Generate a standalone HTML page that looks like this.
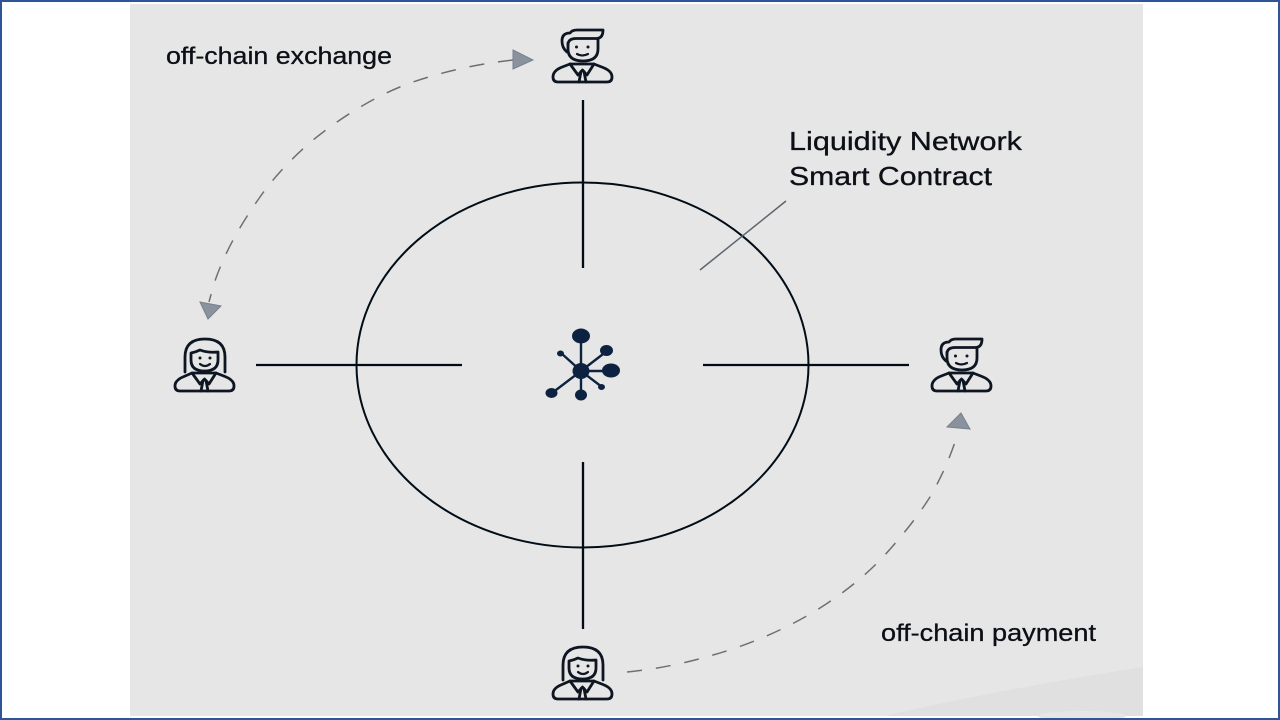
<!DOCTYPE html>
<html>
<head>
<meta charset="utf-8">
<style>
html,body{margin:0;padding:0;background:#fff}
svg{display:block}
text{font-family:"Liberation Sans",sans-serif;fill:#0c1016;stroke:#0c1016;stroke-width:.3}
</style>
</head>
<body>
<svg width="1280" height="720" viewBox="0 0 1280 720" xmlns="http://www.w3.org/2000/svg">
<defs>
<filter id="s" x="-5%" y="-5%" width="110%" height="110%"><feGaussianBlur stdDeviation="0.3"/></filter>
<g id="body" fill="none" stroke="#0b1420" stroke-width="2.800" stroke-linejoin="round" stroke-linecap="round">
  <path d="M558 82H607Q612 82 612 77Q612 71 603 67.500L594 64H570L561 67.500Q553 71 553 77Q553 82 558 82Z" fill="#e6e6e6"/>
  <path d="M570 64L578 75L582.500 70L587 75L594 64"/>
  <path d="M579 82L581 71.500M586 82L584 71.500"/>
</g>
<g id="man" fill="none" stroke="#0b1420" stroke-width="2.800" stroke-linejoin="round" stroke-linecap="round">
  <use href="#body"/>
  <path d="M568 43V49Q568 61 583 61Q598 61 598 49V39"/>
  <path d="M567 52Q562 48 562 41Q562 33 570 33Q572 30 577 30H603Q603 38 597 38.500H576Q568 38.500 568 45"/>
  <path d="M577 54Q582 57 588 54" stroke-width="2.200"/>
  <circle cx="576.500" cy="47" r="1.500" fill="#0b1420" stroke="none"/>
  <circle cx="588" cy="47" r="1.500" fill="#0b1420" stroke="none"/>
</g>
<g id="woman" fill="none" stroke="#0b1420" stroke-width="2.800" stroke-linejoin="round" stroke-linecap="round">
  <path d="M185 372V357Q185 339 205 339Q225 339 225 357V372"/>
  <path d="M191 353V360Q191 371 204.500 371Q218 371 218 360V352Q208 353 200 350Q196 352 191 353Z"/>
  <path d="M180 391H229Q234 391 234 386Q234 380 225 376.500L216 373H192L184 376.500Q175 380 175 386Q175 391 180 391Z" fill="#e6e6e6"/>
  <path d="M192 373L200 384L204.500 379L209 384L216 373"/>
  <path d="M201 391L203 380.500M208 391L206 380.500"/>
  <path d="M200 364Q205 368 210 364" stroke-width="2.200"/>
  <circle cx="200" cy="358" r="1.500" fill="#0b1420" stroke="none"/>
  <circle cx="210" cy="358" r="1.500" fill="#0b1420" stroke="none"/>
</g>
</defs>

<rect x="130" y="4" width="1013" height="712" fill="#e6e6e6"/>
<path d="M1143 667C1060 680 960 698 884 716H1143Z" fill="#e0e0e1"/>
<ellipse cx="1082" cy="716" rx="44" ry="5" fill="#e6e6e6"/>
<rect x="1" y="1" width="1278" height="718" fill="none" stroke="#2f5597" stroke-width="2"/>

<g filter="url(#s)">
  <ellipse cx="582.500" cy="365" rx="226" ry="182.500" fill="none" stroke="#060d18" stroke-width="2"/>
  <g stroke="#060d18" stroke-width="2.300" fill="none">
    <path d="M583 100V268"/>
    <path d="M583 462V629"/>
    <path d="M256 365H462"/>
    <path d="M703 365H909"/>
  </g>
  <path d="M786 201L700 270" stroke="#5e646d" stroke-width="1.500" fill="none"/>

  <g stroke="#6c7076" stroke-width="1.500" fill="none" stroke-dasharray="15 14">
    <path d="M513 60C476 64 442 72 410 83C375 96 343 116 313 140C292 158 274 177 260 197C238 228 222 258 213 287L209 302"/>
    <path d="M627 672C658 669 686 663 713 655C752 644 790 627 820 608C845 592 865 576 883 557C903 535 918 516 930 497C941 478 950 458 957 436"/>
  </g>
  <path d="M513 50L533 60L513 69Z" fill="#8a939d" stroke="#79818b" stroke-width="1"/>
  <path d="M200 302L221 306L208 319Z" fill="#8a939d" stroke="#79818b" stroke-width="1"/>
  <path d="M961 413L970 429L947 427Z" fill="#8a939d" stroke="#79818b" stroke-width="1"/>

  <use href="#man"/>
  <use href="#man" transform="translate(379 309)"/>
  <use href="#woman"/>
  <use href="#woman" transform="translate(378 308)"/>

  <g stroke="#11233f" stroke-width="2.400" fill="none">
    <path d="M581 371V337"/>
    <path d="M581 371L607 351"/>
    <path d="M581 371H611"/>
    <path d="M581 371L602 387"/>
    <path d="M581 371V395"/>
    <path d="M581 371L552 393"/>
    <path d="M581 371L561 353"/>
  </g>
  <g fill="#11233f">
    <ellipse cx="581" cy="371" rx="8.500" ry="8"/>
    <ellipse cx="581" cy="336" rx="9" ry="7.500"/>
    <ellipse cx="606.500" cy="350.500" rx="6.500" ry="5.500"/>
    <ellipse cx="611" cy="370.500" rx="9" ry="7"/>
    <ellipse cx="601.500" cy="387" rx="3.500" ry="3"/>
    <ellipse cx="581" cy="395" rx="6" ry="5.500"/>
    <ellipse cx="551.500" cy="393" rx="6" ry="5"/>
    <ellipse cx="560.500" cy="353.500" rx="3.500" ry="3"/>
  </g>
</g>

<text x="166" y="64" font-size="24" textLength="226" lengthAdjust="spacingAndGlyphs">off-chain exchange</text>
<text x="789" y="150" font-size="26" textLength="233" lengthAdjust="spacingAndGlyphs">Liquidity Network</text>
<text x="789" y="185" font-size="26" textLength="203" lengthAdjust="spacingAndGlyphs">Smart Contract</text>
<text x="881" y="641" font-size="24" textLength="215" lengthAdjust="spacingAndGlyphs">off-chain payment</text>
</svg>
</body>
</html>
